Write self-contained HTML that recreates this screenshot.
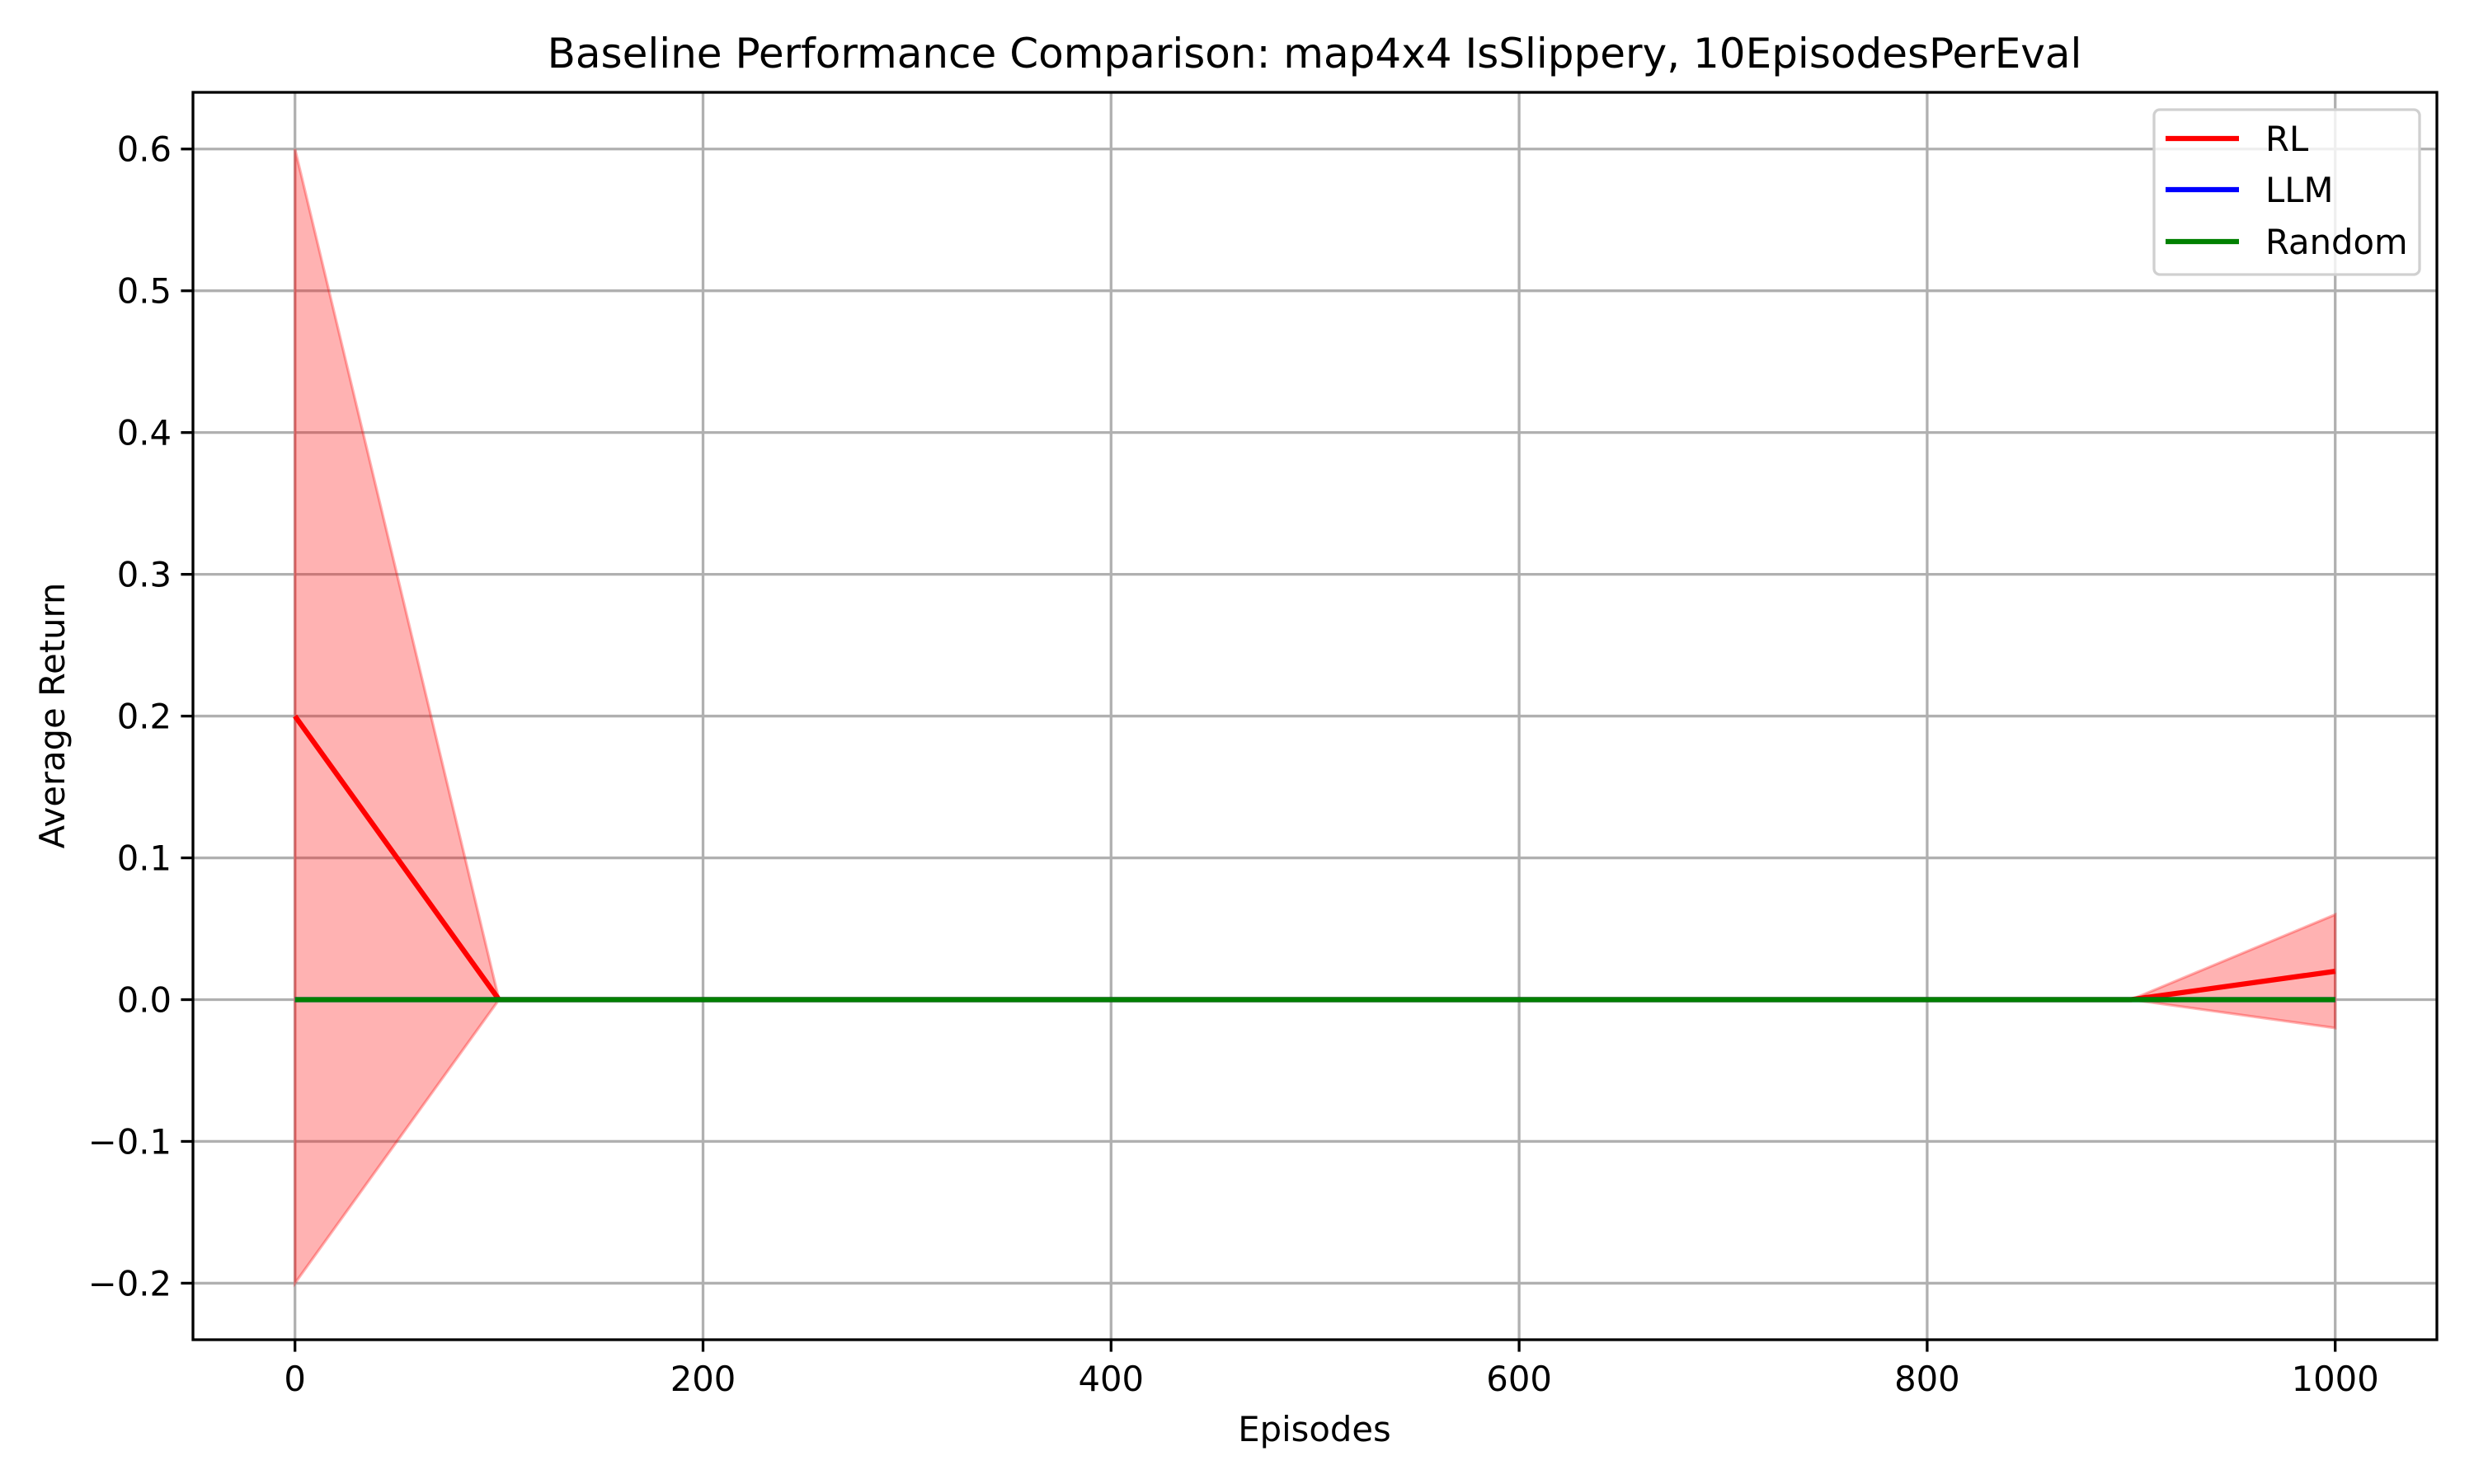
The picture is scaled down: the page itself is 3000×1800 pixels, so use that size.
<!DOCTYPE html>
<html><head><meta charset="utf-8"><style>
html,body{margin:0;padding:0;background:#fff;}
svg{display:block;font-family:"DejaVu Sans","Liberation Sans",sans-serif;}
</style></head><body>
<svg id="chart" width="3000" height="1800" viewBox="0 0 3000 1800" xmlns="http://www.w3.org/2000/svg">
<rect width="3000" height="1800" fill="#fff"/>
<g id="grid"></g>
<g id="series"></g>
<rect x="234" y="112" width="2721" height="1513" fill="none" stroke="#000" stroke-width="3.3"/>
<g id="ticks"></g>
<text x="1594" y="82" font-size="50" text-anchor="middle">Baseline Performance Comparison: map4x4 IsSlippery, 10EpisodesPerEval</text>
<text x="1594" y="1748" font-size="41.7" text-anchor="middle">Episodes</text>
<text transform="translate(78,868) rotate(-90)" font-size="41.7" text-anchor="middle">Average Return</text>
<g>
<rect x="2612" y="133" width="322" height="200" rx="7" fill="#fff" fill-opacity="0.8" stroke="#d0d0d0" stroke-width="3.3"/>
<g><line x1="2626" y1="168" x2="2715" y2="168" stroke="#ff0000" stroke-width="6.25"/><text x="2747" y="183" font-size="41.7">RL</text></g>
<g><line x1="2626" y1="230" x2="2715" y2="230" stroke="#0000ff" stroke-width="6.25"/><text x="2747" y="245" font-size="41.7">LLM</text></g>
<g><line x1="2626" y1="293" x2="2715" y2="293" stroke="#008000" stroke-width="6.25"/><text x="2747" y="308" font-size="41.7">Random</text></g>
</g>
</svg>
<script>
const episodes = [0,100,200,300,400,500,600,700,800,900,1000];
const rlMean = [0.2,0,0,0,0,0,0,0,0,0,0.02];
const rlStd = [0.4,0,0,0,0,0,0,0,0,0,0.04];
const llmMean = [0,0,0,0,0,0,0,0,0,0,0];
const randomMean = [0,0,0,0,0,0,0,0,0,0,0];
const xTicks = [0,200,400,600,800,1000];
const yTicks = [-0.2,-0.1,0.0,0.1,0.2,0.3,0.4,0.5,0.6];

const NS="http://www.w3.org/2000/svg";
const X0=357.7, XS=2474/1000, Y0=1212.5, YS=1719.6;
const sx=v=>X0+v*XS, sy=v=>Y0-v*YS;
const L=234,R=2955,T=112,B=1625;
function mk(tag,attrs,parent){const e=document.createElementNS(NS,tag);for(const k in attrs)e.setAttribute(k,attrs[k]);parent.appendChild(e);return e;}
const grid=document.getElementById('grid'), ticks=document.getElementById('ticks'), series=document.getElementById('series');
xTicks.forEach(v=>{
  const g=mk('line',{x1:sx(v),x2:sx(v),y1:T,y2:B,stroke:'#b0b0b0','stroke-width':3.3},grid);
  
  
  const t=mk('line',{x1:sx(v),x2:sx(v),y1:B,y2:B+14.6,stroke:'#000','stroke-width':3.3},ticks);
  
  
  const l=mk('text',{x:sx(v),y:B+62,'font-size':41.7,'text-anchor':'middle'},ticks);
  l.textContent=String(v);
  
  
});
yTicks.forEach(v=>{
  const g=mk('line',{x1:L,x2:R,y1:sy(v),y2:sy(v),stroke:'#b0b0b0','stroke-width':3.3},grid);
  
  
  const t=mk('line',{x1:L-14.6,x2:L,y1:sy(v),y2:sy(v),stroke:'#000','stroke-width':3.3},ticks);
  
  
  const l=mk('text',{x:L-26,y:sy(v)+15,'font-size':41.7,'text-anchor':'end'},ticks);
  l.textContent=(v<0?'\u2212':'')+Math.abs(v).toFixed(1);
  
  
});
let up=episodes.map((e,i)=>sx(e)+','+sy(rlMean[i]+rlStd[i]));
let dn=episodes.map((e,i)=>sx(e)+','+sy(rlMean[i]-rlStd[i])).reverse();
const band=mk('polygon',{points:up.concat(dn).join(' '),fill:'#ff0000','fill-opacity':0.3,stroke:'#ff0000','stroke-opacity':0.3,'stroke-width':3.3},series);


function line(vals,color,name){
  const p=mk('polyline',{points:episodes.map((e,i)=>sx(e)+','+sy(vals[i])).join(' '),fill:'none',stroke:color,'stroke-width':6.25,'stroke-linejoin':'round'},series);
  
  
}
line(rlMean,'#ff0000','rl-line');
line(llmMean,'#0000ff','llm-line');
line(randomMean,'#008000','random-line');
</script>
</body></html>
